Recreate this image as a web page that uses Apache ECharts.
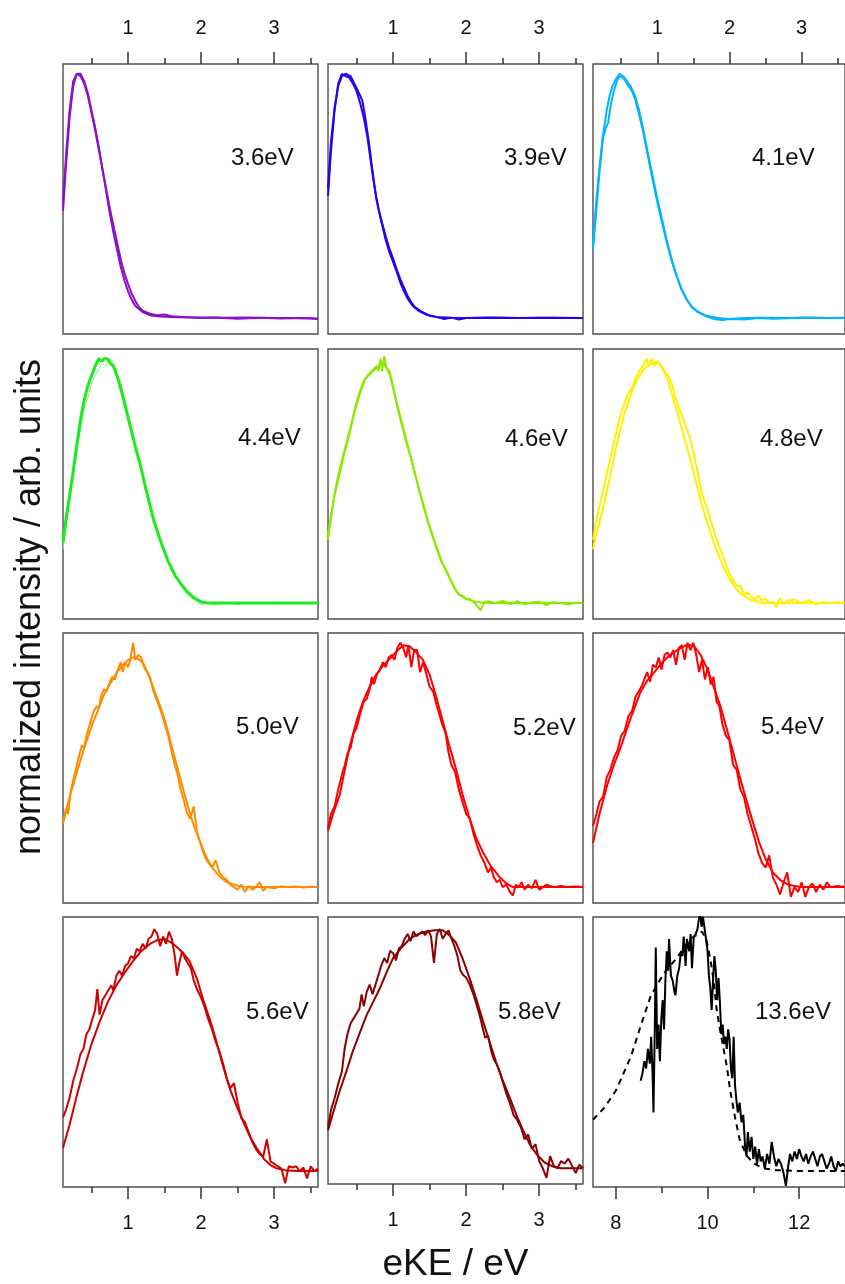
<!DOCTYPE html>
<html>
<head>
<meta charset="utf-8">
<script src="https://cdn.jsdelivr.net/npm/echarts@6/dist/echarts.min.js"></script>
<style>
html,body{margin:0;padding:0;background:#fff}
#chart{width:845px;height:1284px}
</style>
</head>
<body>
<div id="chart"></div>
<script>
// ---- photoelectron spectra: [eKE (eV), normalized intensity] ----
const e36a = [[0.11,0.44],[0.15,0.62],[0.2,0.82],[0.25,0.95],[0.3,1.0],[0.35,1.0],[0.4,0.97],[0.45,0.92],[0.5,0.85],[0.55,0.78],[0.6,0.70],[0.65,0.61],[0.7,0.52],[0.75,0.43],[0.8,0.35],[0.85,0.28],[0.9,0.21],[0.95,0.155],[1.0,0.11],[1.05,0.075],[1.1,0.05],[1.2,0.025],[1.3,0.012],[1.4,0.008],[1.5,0.006],[1.7,0.004],[2.0,0.003],[2.3,0.002],[2.6,0.003],[3.0,0.0],[3.3,0.0],[3.6,-0.002]];
const e36b = [[0.11,0.47],[0.15,0.66],[0.2,0.85],[0.25,0.97],[0.3,1.0],[0.35,0.99],[0.4,0.96],[0.45,0.91],[0.5,0.84],[0.55,0.77],[0.6,0.69],[0.65,0.61],[0.7,0.53],[0.75,0.45],[0.8,0.38],[0.85,0.31],[0.9,0.24],[0.95,0.185],[1.0,0.14],[1.05,0.10],[1.1,0.07],[1.15,0.045],[1.2,0.03],[1.3,0.018],[1.4,0.012],[1.5,0.015],[1.6,0.008],[1.8,0.004],[2.0,0.0],[2.2,0.003],[2.5,-0.003],[2.8,0.002],[3.1,-0.002],[3.4,0.0],[3.6,-0.004]];

const e39a = [[0.11,0.53],[0.15,0.72],[0.2,0.86],[0.25,0.95],[0.3,0.99],[0.35,1.0],[0.42,0.99],[0.47,0.96],[0.52,0.93],[0.58,0.89],[0.62,0.82],[0.67,0.72],[0.72,0.60],[0.77,0.49],[0.82,0.42],[0.86,0.37],[0.9,0.32],[0.95,0.27],[1.0,0.23],[1.05,0.19],[1.1,0.145],[1.15,0.11],[1.2,0.08],[1.27,0.05],[1.35,0.03],[1.45,0.015],[1.59,0.005],[1.8,0.002],[2.0,0.0],[2.4,0.002],[2.8,0.0],[3.2,0.001],[3.6,0.0]];
const e39b = [[0.11,0.50],[0.15,0.68],[0.2,0.85],[0.25,0.96],[0.3,1.0],[0.35,0.99],[0.4,0.985],[0.45,0.96],[0.5,0.93],[0.55,0.88],[0.6,0.82],[0.65,0.74],[0.7,0.63],[0.75,0.53],[0.8,0.45],[0.85,0.39],[0.9,0.335],[0.95,0.285],[1.0,0.245],[1.05,0.20],[1.1,0.16],[1.15,0.125],[1.2,0.09],[1.25,0.065],[1.3,0.045],[1.4,0.025],[1.5,0.01],[1.6,0.004],[1.7,-0.004],[1.8,0.002],[1.9,-0.006],[2.0,0.0],[2.3,0.003],[2.7,0.0],[3.0,0.002],[3.4,0.0],[3.6,0.0]];

const e41a = [[0.11,0.31],[0.15,0.46],[0.2,0.62],[0.24,0.73],[0.3,0.85],[0.34,0.91],[0.38,0.95],[0.43,0.98],[0.48,1.0],[0.53,0.99],[0.58,0.97],[0.63,0.95],[0.69,0.91],[0.75,0.85],[0.8,0.78],[0.86,0.69],[0.93,0.59],[1.0,0.49],[1.07,0.40],[1.13,0.32],[1.2,0.24],[1.26,0.18],[1.33,0.12],[1.4,0.08],[1.48,0.045],[1.56,0.025],[1.65,0.012],[1.75,0.006],[1.85,0.0],[2.0,-0.004],[2.2,0.0],[2.5,0.002],[2.8,0.0],[3.1,0.003],[3.4,0.0],[3.6,0.0]];
const e41b = [[0.11,0.28],[0.15,0.42],[0.2,0.60],[0.25,0.74],[0.29,0.78],[0.32,0.80],[0.36,0.88],[0.4,0.93],[0.44,0.97],[0.48,0.99],[0.52,0.985],[0.56,0.97],[0.6,0.95],[0.65,0.93],[0.7,0.89],[0.75,0.83],[0.8,0.77],[0.86,0.68],[0.93,0.575],[1.0,0.475],[1.07,0.385],[1.14,0.30],[1.2,0.235],[1.27,0.17],[1.35,0.11],[1.42,0.07],[1.5,0.04],[1.6,0.02],[1.7,0.005],[1.8,-0.005],[1.9,-0.008],[2.0,-0.004],[2.2,-0.006],[2.4,0.0],[2.6,-0.003],[3.0,0.002],[3.3,0.0],[3.6,0.002]];

const e44a = [[0.11,0.25],[0.15,0.34],[0.2,0.44],[0.25,0.54],[0.3,0.65],[0.36,0.77],[0.4,0.83],[0.45,0.89],[0.5,0.93],[0.55,0.97],[0.6,1.0],[0.64,0.99],[0.68,1.0],[0.72,1.0],[0.76,0.98],[0.8,0.97],[0.85,0.93],[0.9,0.88],[0.95,0.82],[1.0,0.76],[1.05,0.70],[1.1,0.64],[1.18,0.55],[1.25,0.46],[1.3,0.40],[1.36,0.33],[1.45,0.25],[1.55,0.17],[1.65,0.11],[1.73,0.076],[1.8,0.05],[1.9,0.022],[2.0,0.005],[2.1,0.0],[2.4,0.0],[2.8,0.0],[3.2,0.0],[3.6,0.0]];
const e44b = [[0.11,0.22],[0.2,0.42],[0.3,0.62],[0.4,0.80],[0.45,0.84],[0.5,0.90],[0.55,0.93],[0.6,0.96],[0.65,0.98],[0.7,0.97],[0.75,1.0],[0.8,0.98],[0.85,0.94],[0.9,0.90],[1.0,0.78],[1.1,0.65],[1.2,0.53],[1.3,0.41],[1.4,0.30],[1.5,0.21],[1.6,0.14],[1.7,0.085],[1.8,0.04],[1.9,0.015],[2.0,-0.005],[2.1,0.0],[2.2,-0.01],[2.3,0.005],[2.5,-0.005],[2.7,0.003],[3.0,-0.004],[3.3,0.002],[3.6,0.0]];

const e46a = [[0.11,0.28],[0.15,0.36],[0.2,0.44],[0.27,0.53],[0.34,0.62],[0.41,0.70],[0.48,0.80],[0.55,0.87],[0.6,0.91],[0.66,0.93],[0.73,0.95],[0.8,0.97],[0.86,0.985],[0.92,0.96],[0.96,0.93],[1.0,0.88],[1.06,0.81],[1.12,0.74],[1.18,0.67],[1.25,0.59],[1.3,0.53],[1.36,0.46],[1.43,0.38],[1.5,0.31],[1.55,0.265],[1.62,0.21],[1.68,0.16],[1.73,0.13],[1.8,0.085],[1.86,0.05],[1.91,0.034],[2.0,0.018],[2.1,0.008],[2.2,0.003],[2.3,0.0],[2.5,0.002],[2.8,0.0],[3.1,0.001],[3.4,0.0],[3.6,0.0]];
const e46b = [[0.11,0.26],[0.2,0.45],[0.27,0.55],[0.34,0.63],[0.41,0.71],[0.48,0.79],[0.55,0.86],[0.62,0.92],[0.68,0.94],[0.74,0.96],[0.78,0.97],[0.8,0.95],[0.83,1.0],[0.85,0.95],[0.88,1.01],[0.91,0.96],[0.95,0.95],[1.0,0.89],[1.06,0.80],[1.12,0.73],[1.18,0.66],[1.24,0.60],[1.3,0.53],[1.36,0.46],[1.43,0.39],[1.48,0.33],[1.53,0.29],[1.6,0.22],[1.66,0.17],[1.72,0.14],[1.78,0.10],[1.85,0.06],[1.9,0.035],[1.95,0.03],[2.0,0.015],[2.05,0.018],[2.1,0.005],[2.15,-0.01],[2.2,-0.03],[2.25,0.005],[2.3,0.008],[2.4,0.0],[2.5,0.01],[2.6,-0.005],[2.7,0.008],[2.8,-0.006],[2.9,0.003],[3.0,0.006],[3.1,-0.008],[3.2,0.004],[3.3,0.0],[3.4,-0.006],[3.5,0.002],[3.6,0.0]];

const e48a = [[0.11,0.22],[0.15,0.28],[0.2,0.33],[0.27,0.415],[0.34,0.51],[0.41,0.61],[0.48,0.70],[0.55,0.78],[0.62,0.84],[0.68,0.89],[0.75,0.93],[0.82,0.96],[0.89,0.975],[0.96,0.985],[1.03,0.98],[1.09,0.95],[1.14,0.92],[1.2,0.86],[1.28,0.78],[1.35,0.70],[1.42,0.63],[1.48,0.56],[1.55,0.48],[1.62,0.40],[1.69,0.33],[1.78,0.25],[1.87,0.18],[1.96,0.12],[2.05,0.075],[2.15,0.04],[2.28,0.014],[2.4,0.005],[2.5,0.0],[2.8,0.0],[3.1,0.0],[3.6,0.0]];
const e48b = [[0.11,0.26],[0.15,0.33],[0.2,0.40],[0.25,0.46],[0.3,0.53],[0.35,0.59],[0.4,0.66],[0.45,0.72],[0.5,0.78],[0.55,0.82],[0.6,0.86],[0.65,0.88],[0.7,0.92],[0.75,0.95],[0.8,0.97],[0.85,1.0],[0.88,0.97],[0.92,1.0],[0.96,0.97],[1.0,0.99],[1.05,0.97],[1.1,0.95],[1.15,0.93],[1.2,0.90],[1.25,0.84],[1.3,0.80],[1.35,0.76],[1.4,0.72],[1.45,0.68],[1.5,0.62],[1.55,0.55],[1.6,0.47],[1.65,0.42],[1.7,0.38],[1.75,0.33],[1.8,0.28],[1.85,0.24],[1.9,0.20],[1.95,0.16],[2.0,0.12],[2.05,0.095],[2.1,0.07],[2.15,0.07],[2.2,0.035],[2.25,0.045],[2.3,0.025],[2.35,0.015],[2.4,0.03],[2.45,0.01],[2.5,0.018],[2.55,0.0],[2.6,0.005],[2.65,-0.015],[2.7,0.02],[2.75,-0.005],[2.8,0.01],[2.9,0.015],[3.0,0.0],[3.1,0.012],[3.2,-0.005],[3.3,0.005],[3.4,0.0],[3.5,0.004],[3.6,0.0]];

const e50a = [[0.11,0.26],[0.2,0.37],[0.29,0.46],[0.38,0.55],[0.48,0.64],[0.57,0.71],[0.66,0.78],[0.75,0.83],[0.84,0.875],[0.93,0.91],[1.0,0.93],[1.07,0.94],[1.14,0.935],[1.21,0.915],[1.28,0.87],[1.34,0.82],[1.44,0.74],[1.53,0.656],[1.62,0.55],[1.71,0.45],[1.8,0.35],[1.89,0.26],[1.98,0.19],[2.07,0.123],[2.15,0.08],[2.25,0.045],[2.35,0.02],[2.5,0.006],[2.62,0.0],[3.0,0.0],[3.6,0.0]];
const e50b = [[0.11,0.27],[0.15,0.32],[0.18,0.30],[0.22,0.40],[0.26,0.45],[0.3,0.50],[0.34,0.55],[0.37,0.58],[0.4,0.57],[0.43,0.62],[0.47,0.66],[0.5,0.69],[0.53,0.72],[0.57,0.74],[0.6,0.73],[0.63,0.78],[0.67,0.81],[0.7,0.80],[0.74,0.83],[0.78,0.86],[0.82,0.85],[0.86,0.89],[0.9,0.92],[0.93,0.88],[0.96,0.92],[1.0,0.90],[1.03,0.93],[1.07,1.0],[1.1,0.93],[1.14,0.95],[1.18,0.94],[1.22,0.90],[1.26,0.88],[1.3,0.86],[1.35,0.80],[1.4,0.76],[1.45,0.72],[1.5,0.67],[1.55,0.62],[1.6,0.55],[1.64,0.50],[1.68,0.46],[1.72,0.40],[1.76,0.36],[1.8,0.31],[1.85,0.28],[1.9,0.33],[1.94,0.23],[1.98,0.19],[2.02,0.15],[2.06,0.12],[2.1,0.10],[2.15,0.08],[2.2,0.11],[2.25,0.06],[2.3,0.04],[2.35,0.03],[2.4,0.01],[2.45,0.0],[2.5,-0.01],[2.55,0.01],[2.6,-0.02],[2.65,0.005],[2.7,-0.01],[2.75,0.0],[2.8,0.02],[2.85,-0.015],[2.9,0.0],[3.0,-0.005],[3.1,0.004],[3.2,0.0],[3.3,0.003],[3.4,-0.002],[3.5,0.002],[3.6,0.0]];

const e52a = [[0.11,0.23],[0.19,0.31],[0.27,0.376],[0.34,0.48],[0.41,0.58],[0.5,0.68],[0.59,0.76],[0.68,0.82],[0.77,0.87],[0.86,0.905],[0.96,0.936],[1.05,0.965],[1.14,0.99],[1.23,0.985],[1.32,0.96],[1.41,0.93],[1.5,0.87],[1.59,0.78],[1.68,0.68],[1.77,0.58],[1.86,0.485],[1.95,0.38],[2.05,0.28],[2.14,0.2],[2.23,0.143],[2.33,0.09],[2.46,0.04],[2.55,0.015],[2.64,0.0],[3.0,0.0],[3.6,0.0]];
const e52b = [[0.11,0.24],[0.15,0.30],[0.2,0.33],[0.25,0.40],[0.3,0.46],[0.34,0.50],[0.38,0.55],[0.42,0.57],[0.46,0.63],[0.5,0.65],[0.55,0.71],[0.6,0.76],[0.64,0.77],[0.68,0.81],[0.71,0.86],[0.74,0.83],[0.78,0.87],[0.82,0.89],[0.86,0.92],[0.9,0.90],[0.94,0.94],[0.98,0.95],[1.02,0.93],[1.06,0.98],[1.1,1.0],[1.14,0.98],[1.18,0.94],[1.21,0.99],[1.25,0.90],[1.29,0.97],[1.33,0.97],[1.37,0.88],[1.41,0.92],[1.45,0.88],[1.5,0.82],[1.55,0.80],[1.6,0.74],[1.64,0.70],[1.68,0.66],[1.72,0.63],[1.76,0.55],[1.8,0.50],[1.85,0.47],[1.9,0.40],[1.95,0.35],[2.0,0.30],[2.05,0.28],[2.1,0.22],[2.15,0.17],[2.2,0.13],[2.25,0.10],[2.3,0.06],[2.34,0.08],[2.38,0.04],[2.42,0.02],[2.46,0.03],[2.5,0.0],[2.55,0.01],[2.6,-0.02],[2.64,-0.034],[2.68,0.01],[2.72,0.0],[2.76,0.02],[2.8,-0.01],[2.85,0.01],[2.9,-0.005],[2.95,0.03],[3.0,-0.01],[3.05,0.0],[3.1,0.01],[3.2,0.0],[3.3,0.005],[3.4,0.0],[3.5,0.003],[3.6,0.0]];

const e54a = [[0.11,0.18],[0.2,0.30],[0.31,0.42],[0.4,0.50],[0.49,0.57],[0.56,0.63],[0.63,0.69],[0.7,0.745],[0.77,0.80],[0.86,0.845],[0.96,0.88],[1.07,0.92],[1.18,0.95],[1.3,0.975],[1.4,0.99],[1.5,0.99],[1.6,0.95],[1.69,0.895],[1.78,0.82],[1.87,0.745],[1.96,0.65],[2.05,0.553],[2.14,0.455],[2.23,0.36],[2.32,0.27],[2.41,0.184],[2.5,0.115],[2.6,0.06],[2.7,0.03],[2.8,0.012],[2.87,0.007],[3.0,0.0],[3.3,0.0],[3.6,0.0]];
const e54b = [[0.11,0.25],[0.15,0.29],[0.2,0.35],[0.25,0.37],[0.3,0.45],[0.35,0.48],[0.4,0.53],[0.45,0.56],[0.5,0.62],[0.55,0.64],[0.6,0.70],[0.65,0.72],[0.7,0.78],[0.74,0.80],[0.78,0.82],[0.82,0.85],[0.86,0.88],[0.9,0.84],[0.94,0.91],[0.98,0.90],[1.02,0.94],[1.06,0.89],[1.1,0.95],[1.14,0.96],[1.18,0.94],[1.22,0.97],[1.26,0.91],[1.3,0.98],[1.34,0.99],[1.38,0.93],[1.42,1.0],[1.46,0.97],[1.5,1.0],[1.54,0.95],[1.58,0.88],[1.62,0.93],[1.66,0.85],[1.7,0.90],[1.74,0.83],[1.78,0.86],[1.82,0.76],[1.86,0.74],[1.9,0.67],[1.95,0.62],[2.0,0.60],[2.05,0.50],[2.1,0.48],[2.15,0.40],[2.2,0.37],[2.25,0.30],[2.3,0.25],[2.35,0.20],[2.4,0.14],[2.45,0.10],[2.5,0.08],[2.55,0.13],[2.6,0.04],[2.65,0.01],[2.7,-0.03],[2.75,0.02],[2.8,0.06],[2.85,-0.04],[2.9,0.0],[2.95,-0.02],[3.0,0.02],[3.05,-0.04],[3.1,0.0],[3.15,0.015],[3.2,-0.02],[3.25,0.01],[3.3,-0.01],[3.35,0.02],[3.4,0.0],[3.5,0.005],[3.6,0.0]];

const e56a = [[0.11,0.095],[0.2,0.19],[0.3,0.31],[0.38,0.40],[0.5,0.52],[0.61,0.61],[0.72,0.69],[0.84,0.76],[0.95,0.81],[1.07,0.86],[1.18,0.90],[1.3,0.93],[1.4,0.945],[1.5,0.95],[1.62,0.93],[1.73,0.90],[1.84,0.86],[1.94,0.79],[2.03,0.70],[2.12,0.62],[2.21,0.53],[2.3,0.43],[2.39,0.34],[2.48,0.27],[2.58,0.20],[2.67,0.14],[2.76,0.095],[2.86,0.05],[2.95,0.025],[3.03,0.012],[3.15,0.004],[3.3,0.0],[3.6,0.0]];
const e56b = [[0.11,0.22],[0.15,0.25],[0.2,0.30],[0.25,0.37],[0.3,0.42],[0.35,0.48],[0.39,0.50],[0.43,0.56],[0.47,0.58],[0.51,0.62],[0.55,0.66],[0.58,0.745],[0.61,0.64],[0.65,0.70],[0.69,0.72],[0.73,0.74],[0.77,0.76],[0.8,0.74],[0.84,0.80],[0.88,0.82],[0.92,0.80],[0.96,0.84],[1.0,0.85],[1.04,0.88],[1.08,0.87],[1.12,0.91],[1.16,0.90],[1.2,0.93],[1.24,0.91],[1.28,0.95],[1.32,0.96],[1.36,0.99],[1.4,0.97],[1.44,0.92],[1.48,0.96],[1.52,0.93],[1.56,0.98],[1.6,0.95],[1.64,0.88],[1.67,0.80],[1.7,0.85],[1.74,0.90],[1.78,0.87],[1.82,0.85],[1.86,0.83],[1.9,0.78],[1.95,0.74],[2.0,0.71],[2.05,0.67],[2.1,0.62],[2.15,0.58],[2.2,0.53],[2.25,0.49],[2.3,0.44],[2.35,0.38],[2.4,0.34],[2.45,0.36],[2.5,0.28],[2.55,0.22],[2.6,0.20],[2.65,0.16],[2.7,0.12],[2.75,0.09],[2.8,0.07],[2.85,0.06],[2.9,0.13],[2.95,0.04],[3.0,0.03],[3.05,0.02],[3.1,0.01],[3.15,-0.05],[3.2,0.02],[3.25,0.015],[3.3,0.02],[3.35,0.0],[3.4,0.015],[3.45,-0.03],[3.5,0.02],[3.55,0.0],[3.6,0.01]];

const e58a = [[0.11,0.157],[0.19,0.24],[0.27,0.32],[0.36,0.40],[0.45,0.485],[0.55,0.565],[0.64,0.635],[0.73,0.69],[0.82,0.745],[0.91,0.81],[1.0,0.87],[1.12,0.915],[1.23,0.95],[1.35,0.97],[1.46,0.98],[1.57,0.985],[1.68,0.985],[1.77,0.965],[1.86,0.935],[1.95,0.87],[2.05,0.785],[2.14,0.70],[2.23,0.61],[2.32,0.525],[2.41,0.44],[2.5,0.365],[2.6,0.29],[2.69,0.22],[2.78,0.157],[2.87,0.10],[2.96,0.06],[3.07,0.025],[3.19,0.007],[3.3,0.0],[3.6,0.0]];
const e58b = [[0.11,0.17],[0.15,0.24],[0.2,0.29],[0.25,0.35],[0.3,0.40],[0.34,0.50],[0.38,0.56],[0.42,0.60],[0.46,0.62],[0.5,0.64],[0.54,0.66],[0.57,0.72],[0.6,0.67],[0.64,0.73],[0.68,0.76],[0.72,0.72],[0.76,0.76],[0.8,0.80],[0.84,0.84],[0.88,0.87],[0.92,0.85],[0.96,0.90],[1.0,0.89],[1.04,0.86],[1.08,0.91],[1.12,0.92],[1.16,0.95],[1.2,0.97],[1.24,0.94],[1.28,0.98],[1.32,0.96],[1.36,0.97],[1.4,0.98],[1.44,0.965],[1.48,0.985],[1.52,0.96],[1.56,0.85],[1.6,0.97],[1.64,0.99],[1.68,0.95],[1.72,0.97],[1.76,0.985],[1.8,0.95],[1.84,0.92],[1.88,0.88],[1.92,0.82],[1.96,0.80],[2.0,0.79],[2.05,0.76],[2.1,0.72],[2.14,0.68],[2.18,0.64],[2.22,0.59],[2.26,0.54],[2.3,0.55],[2.34,0.49],[2.38,0.45],[2.42,0.43],[2.46,0.40],[2.5,0.36],[2.55,0.31],[2.6,0.27],[2.65,0.22],[2.7,0.20],[2.75,0.17],[2.8,0.12],[2.85,0.14],[2.9,0.08],[2.95,0.10],[3.0,0.03],[3.05,0.0],[3.1,-0.04],[3.15,0.05],[3.2,0.01],[3.25,0.0],[3.3,0.03],[3.35,0.02],[3.4,0.04],[3.45,0.01],[3.5,-0.02],[3.55,0.015],[3.6,0.0]];

const e136calc = [[7.5,0.21],[7.75,0.26],[8.0,0.33],[8.11,0.376],[8.33,0.47],[8.54,0.594],[8.76,0.717],[9.05,0.81],[9.34,0.875],[9.62,0.95],[9.88,0.98],[9.97,0.95],[10.06,0.87],[10.13,0.78],[10.2,0.66],[10.27,0.58],[10.34,0.51],[10.42,0.43],[10.49,0.335],[10.6,0.22],[10.7,0.13],[10.85,0.065],[10.99,0.034],[11.2,0.012],[11.5,0.004],[12.0,0.0],[12.5,0.0],[13.0,0.0]];
const e136meas = [[8.54,0.37],[8.58,0.40],[8.62,0.45],[8.66,0.42],[8.7,0.50],[8.74,0.44],[8.77,0.55],[8.8,0.40],[8.82,0.24],[8.85,0.60],[8.87,0.915],[8.9,0.50],[8.93,0.60],[8.96,0.45],[8.99,0.62],[9.02,0.70],[9.05,0.58],[9.08,0.78],[9.11,0.90],[9.14,0.82],[9.16,0.95],[9.2,0.80],[9.24,0.78],[9.28,0.73],[9.3,0.72],[9.34,0.80],[9.38,0.83],[9.42,0.90],[9.45,0.88],[9.48,0.96],[9.52,0.84],[9.55,0.95],[9.6,0.90],[9.63,0.97],[9.66,0.83],[9.7,0.96],[9.74,0.97],[9.78,0.99],[9.81,1.03],[9.84,1.05],[9.87,1.0],[9.9,1.04],[9.93,1.0],[9.96,0.96],[10.0,0.90],[10.03,0.80],[10.06,0.75],[10.09,0.66],[10.12,0.78],[10.15,0.88],[10.18,0.82],[10.21,0.70],[10.24,0.79],[10.27,0.69],[10.3,0.56],[10.33,0.60],[10.36,0.52],[10.39,0.55],[10.42,0.50],[10.45,0.58],[10.48,0.54],[10.51,0.42],[10.54,0.38],[10.57,0.55],[10.6,0.35],[10.63,0.29],[10.66,0.24],[10.7,0.28],[10.74,0.20],[10.78,0.23],[10.82,0.10],[10.85,0.06],[10.88,0.16],[10.92,0.08],[10.96,0.14],[11.0,0.05],[11.04,0.10],[11.08,0.03],[11.12,0.09],[11.16,0.04],[11.2,0.06],[11.25,0.01],[11.3,0.07],[11.35,0.03],[11.4,0.12],[11.45,0.06],[11.5,0.02],[11.55,0.05],[11.6,0.03],[11.65,0.0],[11.71,-0.06],[11.76,0.02],[11.8,0.07],[11.85,0.04],[11.9,0.08],[11.95,0.05],[12.0,0.09],[12.05,0.06],[12.1,0.04],[12.15,0.07],[12.2,0.03],[12.25,0.06],[12.3,0.08],[12.35,0.05],[12.4,0.02],[12.45,0.06],[12.5,0.07],[12.55,0.04],[12.6,0.01],[12.65,0.03],[12.7,0.06],[12.75,0.02],[12.8,0.0],[12.85,0.04],[12.9,0.02],[12.95,0.03],[13.0,0.02]];

// photon energies (panel labels) and trace colours
const photonLabels = ['3.6eV','3.9eV','4.1eV','4.4eV','4.6eV','4.8eV','5.0eV','5.2eV','5.4eV','5.6eV','5.8eV','13.6eV'];
const traceColors = ['#8C10C8','#2A00F0','#00B4FF','#1EEB1E','#8AEB00','#FFF000','#FF8C00','#FF0000','#FF0000','#D00000','#8B0000','#000000'];
const panelTraces = [[e36a,e36b],[e39a,e39b],[e41a,e41b],[e44b,e44a],[e46a,e46b],[e48a,e48b],[e50a,e50b],[e52a,e52b],[e54a,e54b],[e56a,e56b],[e58a,e58b],[e136calc,e136meas]];

// axis ranges and tick values
const uvRange = [0.11, 3.6];
const xuvRange = [7.5, 13];
const uvMajorTicks = [1, 2, 3];
const uvMinorTicks = [0.5, 1.5, 2.5, 3.5];
const xuvMajorTicks = [8, 10, 12];
const xuvMinorTicks = [9, 11];
const intensityRange = [-0.065, 1.04];

// ---- layout ----
const colLeft = [63, 328, 593];
const rowTop = [64, 349, 633, 917];
const panelW = 255, panelH = 270;
// label offset inside each panel (from the panel's top-left corner)
const labelOffset = [[168,82],[176,82],[159,82],[175,77],[177,78],[167,78],[173,82],[185,83],[168,82],[183,83],[170,83],[162,83]];
const FONT = 'Liberation Sans, Arial, sans-serif';
const INK = '#111';
const FRAME = '#4d4d4d';

const grid = [], xAxis = [], yAxis = [], series = [], title = [];

for (let i = 0; i < 12; i++) {
  const r = Math.floor(i / 3), c = i % 3;
  const isXuv = i === 11;
  const range = isXuv ? xuvRange : uvRange;
  const majors = isXuv ? xuvMajorTicks : uvMajorTicks;
  const minors = isXuv ? xuvMinorTicks : uvMinorTicks;
  const hasAxis = r === 0 || r === 3;
  const pos = r === 0 ? 'top' : 'bottom';

  grid.push({
    left: colLeft[c], top: rowTop[r], width: panelW, height: panelH,
    show: true, borderColor: FRAME, borderWidth: 1.4, backgroundColor: 'transparent'
  });

  // major ticks + labels
  const major = {
    type: 'value', gridIndex: i, min: range[0], max: range[1], position: pos,
    show: hasAxis,
    axisLine: { show: false, onZero: false },
    splitLine: { show: false },
    axisTick: { show: true, inside: false, length: 12, customValues: majors,
      lineStyle: { color: '#333', width: 1.5 } },
    axisLabel: { show: true, customValues: majors, margin: 26, fontSize: 20,
      color: INK, fontFamily: FONT }
  };
  if (i === 10) {
    major.name = 'eKE / eV';
    major.nameLocation = 'middle';
    major.nameGap = 62;
    major.nameTextStyle = { fontSize: 37, color: INK, fontFamily: FONT };
  }
  xAxis.push(major);
  // minor ticks
  xAxis.push({
    type: 'value', gridIndex: i, min: range[0], max: range[1], position: pos,
    show: hasAxis,
    axisLine: { show: false, onZero: false },
    splitLine: { show: false },
    axisTick: { show: true, inside: false, length: 6, customValues: minors,
      lineStyle: { color: '#333', width: 1.5 } },
    axisLabel: { show: false }
  });

  yAxis.push({ type: 'value', gridIndex: i, min: intensityRange[0], max: intensityRange[1], show: false, splitLine: { show: false } });

  panelTraces[i].forEach((trace, j) => {
    let lineStyle = { color: traceColors[i], width: 2 };
    if (i === 3 && j === 1) lineStyle = { color: traceColors[i], width: 3 };
    if (i === 3 && j === 0) lineStyle = { color: '#7FF27F', width: 1 };
    if (i === 11 && j === 0) lineStyle = { color: '#000', width: 2, type: [6, 5] };
    series.push({
      type: 'line', xAxisIndex: 2 * i, yAxisIndex: i, data: trace,
      symbol: 'none', showSymbol: false, smooth: false, clip: true,
      lineStyle: lineStyle, emphasis: { disabled: true }, silent: true
    });
  });

  title.push({
    text: photonLabels[i],
    left: colLeft[c] + labelOffset[i][0], top: rowTop[r] + labelOffset[i][1],
    padding: 0,
    textStyle: { fontSize: 24, fontWeight: 'normal', color: INK, fontFamily: FONT }
  });
}

const chart = echarts.init(document.getElementById('chart'), null, { renderer: 'canvas' });
chart.setOption({
  animation: false,
  backgroundColor: '#fff',
  title: title,
  grid: grid,
  xAxis: xAxis,
  yAxis: yAxis,
  series: series,
  graphic: [{
    type: 'text', x: 30, y: 607, rotation: Math.PI / 2,
    style: { text: 'normalized intensity / arb. units', font: '36px ' + FONT,
      fill: INK, align: 'center', verticalAlign: 'middle' }
  }]
});
</script>
</body>
</html>
